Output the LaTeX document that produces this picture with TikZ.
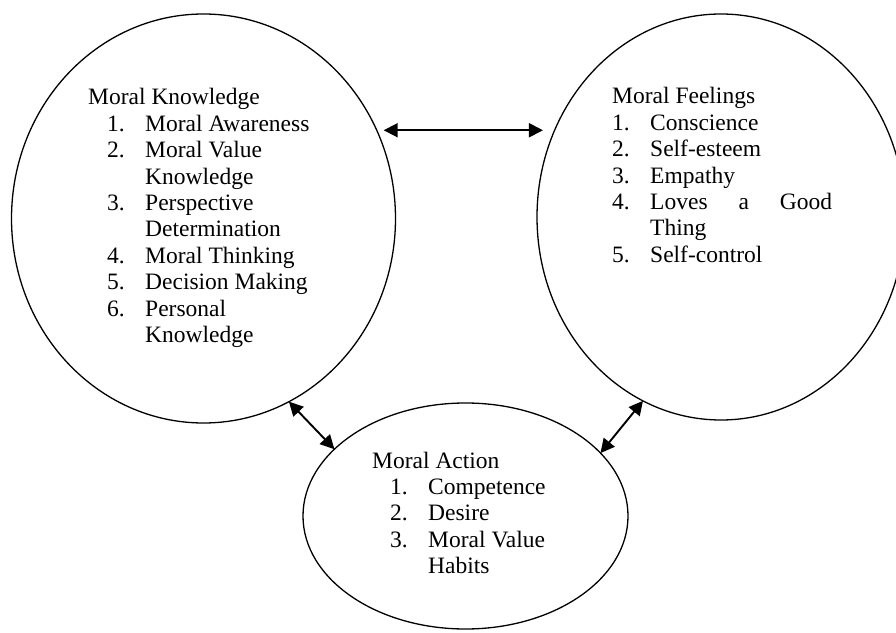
\documentclass[tikz,border=0pt]{standalone}
\usepackage{fontspec}
\setmainfont{Liberation Serif}
\usepackage{tikz}
\usetikzlibrary{shapes.geometric, arrows.meta}
\tikzstyle{bubble} = [ellipse, draw=black, line width=1.3pt, inner sep=0pt, outer sep=0pt]
\tikzstyle{listtext} = [anchor=base west, inner sep=0pt, font=\fontsize{23.5}{26.4}\selectfont]
\tikzstyle{both} = [{Triangle[length=14pt,width=14pt]}-{Triangle[length=14pt,width=14pt]}, line width=1.9pt]

\begin{document}
\begin{tikzpicture}[x=1pt, y=1pt]
    \clip (0,0) rectangle (896,632);

    % the three ellipses
    \node[bubble, minimum width=384pt, minimum height=409pt] (know) at (203.5,413.5) {};
    \node[bubble, minimum width=368pt, minimum height=406pt] (feel) at (721,415) {};
    \node[bubble, minimum width=325pt, minimum height=226pt] (act) at (465.5,116) {};

    % texts
    \node[listtext] (knowtext) at (88,527) {\begin{tabular}[t]{@{}p{19pt}@{}p{38pt}@{}l@{}}
        \multicolumn{3}{@{}l@{}}{Moral Knowledge}\\
        & 1. & Moral Awareness\\
        & 2. & Moral Value\\
        &    & Knowledge\\
        & 3. & Perspective\\
        &    & Determination\\
        & 4. & Moral Thinking\\
        & 5. & Decision Making\\
        & 6. & Personal\\
        &    & Knowledge
    \end{tabular}};
    \node[listtext] (feeltext) at (612,528) {\begin{tabular}[t]{@{}p{38pt}@{}l@{}}
        \multicolumn{2}{@{}l@{}}{Moral Feelings}\\
        1. & Conscience\\
        2. & Self-esteem\\
        3. & Empathy\\
        4. & \makebox[182pt][s]{Loves a Good}\\
           & Thing\\
        5. & Self-control
    \end{tabular}};
    \node[listtext] (acttext) at (372,164) {\begin{tabular}[t]{@{}p{18pt}@{}p{38pt}@{}l@{}}
        \multicolumn{3}{@{}l@{}}{Moral Action}\\
        & 1. & Competence\\
        & 2. & Desire\\
        & 3. & Moral Value\\
        &    & Habits
    \end{tabular}};

    % arrows
    \draw[both] ([xshift=7pt]know.27) -- ([xshift=-11pt]know.27 -| feel.153);
    \draw[both] (know.-65) -- (act.153);
    \draw[both] (feel.247) -- (act.25);
\end{tikzpicture}
\end{document}
